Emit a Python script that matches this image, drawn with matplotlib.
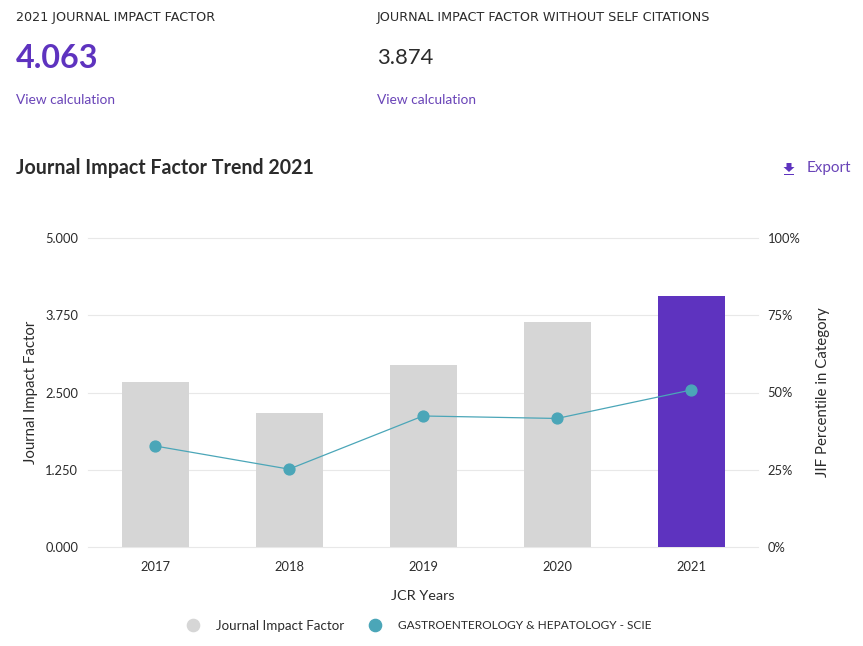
import matplotlib
matplotlib.use("Agg")
import matplotlib.pyplot as plt
from matplotlib.lines import Line2D
from matplotlib.patches import Polygon, Rectangle

plt.rcParams['font.family'] = ['Lato', 'DejaVu Sans']

years = ['2017', '2018', '2019', '2020', '2021']
jif = [2.67, 2.17, 2.945, 3.64, 4.063]
percentile = [32.7, 25.2, 42.4, 41.6, 50.8]
left_ticks = [0, 1.25, 2.5, 3.75, 5]
left_labels = ['0.000', '1.250', '2.500', '3.750', '5.000']
right_ticks = [0, 25, 50, 75, 100]
right_labels = ['0%', '25%', '50%', '75%', '100%']

W, H = 863, 646
PURPLE = '#5e33bf'
LINK = '#6a45b8'
GRAY = '#d6d6d6'
TEAL = '#4ba6b8'
DARK = '#2b2b2b'

fig = plt.figure(figsize=(W / 100, H / 100), dpi=100)
ax = fig.add_axes([88 / W, 1 - 547 / H, 670 / W, 309 / H])
bar_colors = [GRAY] * 4 + [PURPLE]
x = range(len(years))
ax.bar(x, jif, width=0.5, color=bar_colors, zorder=2)
ax.set_xlim(-0.5, 4.5)
ax.set_ylim(0, 5)
ax.set_xticks(list(x), years)
ax.set_yticks(left_ticks, left_labels)
ax.grid(axis='y', color='#e8e8e8', lw=0.8, zorder=0, clip_on=False)
ax.tick_params(length=0, labelsize=9.3, colors=DARK)
ax.tick_params(axis='x', pad=10)
ax.tick_params(axis='y', pad=7)
for s in ax.spines.values():
    s.set_visible(False)
ax.set_xlabel('JCR Years', fontsize=10.4, color=DARK, labelpad=12)
ax.set_ylabel('Journal Impact Factor', fontsize=10.8, color=DARK, labelpad=5)

ax2 = ax.twinx()
ax2.set_ylim(0, 100)
ax2.plot(list(x), percentile, color=TEAL, lw=0.9, marker='o', ms=7.8, zorder=5)
ax2.set_yticks(right_ticks, right_labels)
ax2.tick_params(length=0, labelsize=9.3, colors=DARK, pad=7)
for s in ax2.spines.values():
    s.set_visible(False)
ax2.set_ylabel('JIF Percentile in Category', fontsize=10.8, color=DARK, labelpad=11)


def put(px, py, s, **kw):
    fig.text(px / W, 1 - py / H, s, va='center', ha=kw.pop('ha', 'left'), **kw)


put(16, 17, '2021 JOURNAL IMPACT FACTOR', fontsize=9.2, color=DARK, family='DejaVu Sans')
put(377, 17, 'JOURNAL IMPACT FACTOR WITHOUT SELF CITATIONS', fontsize=9.2, color=DARK, family='DejaVu Sans')
put(16, 59, '4.063', fontsize=23.2, color=PURPLE, fontweight='bold')
put(377, 58, '3.874', fontsize=15.8, color=DARK)
put(16, 100, 'View calculation', fontsize=9.9, color=LINK)
put(377, 100, 'View calculation', fontsize=9.9, color=LINK)
put(16, 168, 'Journal Impact Factor Trend 2021', fontsize=14.1, color=DARK, fontweight='bold')
put(807, 168, 'Export', fontsize=11, color=LINK)

# download icon
fig.add_artist(Polygon([(786.5 / W, 1 - 163 / H), (791.5 / W, 1 - 163 / H), (791.5 / W, 1 - 167 / H),
                        (794.5 / W, 1 - 167 / H), (789 / W, 1 - 172 / H), (783.5 / W, 1 - 167 / H),
                        (786.5 / W, 1 - 167 / H)], closed=True, transform=fig.transFigure,
                       color=PURPLE, lw=0))
fig.add_artist(Rectangle((784 / W, 1 - 175 / H), 10 / W, 1.2 / H, transform=fig.transFigure,
                         color=PURPLE, lw=0))

leg_args = dict(loc='center left', frameon=False, labelcolor=DARK, borderpad=0, borderaxespad=0)
leg1 = fig.legend([Line2D([], [], ls='', marker='o', ms=8.8, color=GRAY)], ['Journal Impact Factor'],
                  bbox_to_anchor=(179.7 / W, 1 - 625.5 / H), fontsize=9.6, handletextpad=0.725, **leg_args)
leg2 = fig.legend([Line2D([], [], ls='', marker='o', ms=8.8, color=TEAL)],
                  ['GASTROENTEROLOGY & HEPATOLOGY - SCIE'],
                  bbox_to_anchor=(363 / W, 1 - 625.5 / H), fontsize=8.6, handletextpad=0.926, **leg_args)

fig.savefig('out.png', dpi=100, facecolor='white')
